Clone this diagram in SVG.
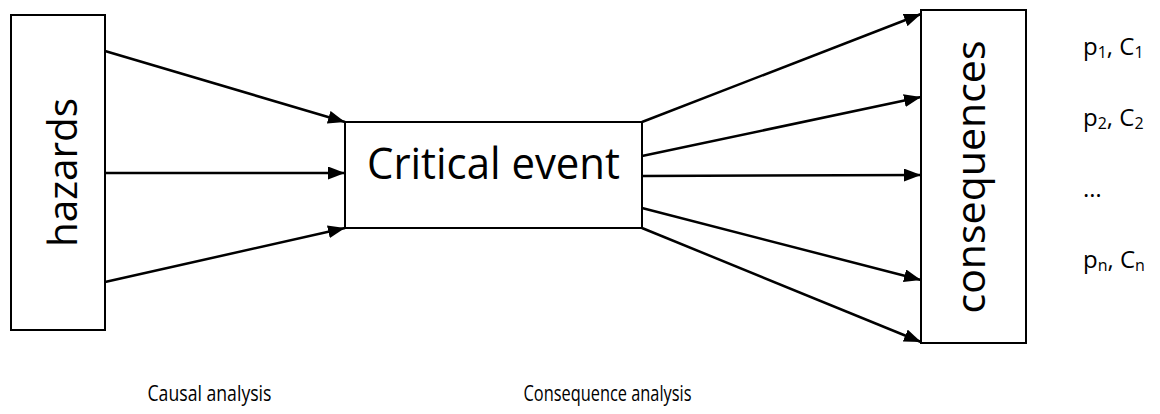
<svg xmlns="http://www.w3.org/2000/svg" width="1160" height="414" viewBox="0 0 1160 414">
  <defs>
    <marker id="arrow" markerUnits="userSpaceOnUse" markerWidth="17" markerHeight="13" refX="17" refY="6.5" orient="auto">
      <path d="M0,0 L17,6.5 L0,13 z" fill="#000"/>
    </marker>
    <style>
      .box { fill: #fff; stroke: #000; stroke-width: 2; }
      .link { stroke: #000; stroke-width: 2.5; fill: none; marker-end: url(#arrow); }
      .lbl { font-family: "Open Sans", "Liberation Sans", sans-serif; fill: #000; }
    </style>
  </defs>
  <rect width="1160" height="414" fill="#fff"/>

  <g id="connectors">
    <!-- hazards to critical event -->
    <line class="link" x1="105" y1="51" x2="345" y2="122"/>
    <line class="link" x1="105" y1="173" x2="345" y2="173"/>
    <line class="link" x1="105" y1="282" x2="345" y2="228"/>
    <!-- critical event to consequences -->
    <line class="link" x1="642" y1="122" x2="921" y2="14"/>
    <line class="link" x1="642" y1="156" x2="921" y2="97"/>
    <line class="link" x1="642" y1="176" x2="921" y2="175"/>
    <line class="link" x1="642" y1="208" x2="921" y2="280"/>
    <line class="link" x1="642" y1="228" x2="921" y2="342"/>
  </g>

  <g id="hazards">
    <rect class="box" x="11" y="15" width="94" height="315"/>
    <text class="lbl" font-size="41" text-anchor="middle" transform="translate(77,172.5) rotate(-90)" textLength="149" lengthAdjust="spacingAndGlyphs">hazards</text>
  </g>

  <g id="critical-event">
    <rect class="box" x="345" y="122" width="297" height="106"/>
    <text class="lbl" x="493.5" y="179" font-size="43" text-anchor="middle" textLength="253" lengthAdjust="spacingAndGlyphs">Critical event</text>
  </g>

  <g id="consequences">
    <rect class="box" x="921" y="10" width="105" height="333"/>
    <text class="lbl" font-size="41" text-anchor="middle" transform="translate(985,177) rotate(-90)" textLength="273" lengthAdjust="spacingAndGlyphs">consequences</text>
  </g>

  <g id="outcomes" class="lbl" font-size="24">
    <text x="1083" y="55">p<tspan font-size="16" dy="3">1</tspan><tspan dy="-3">, C</tspan><tspan font-size="16" dy="3">1</tspan></text>
    <text x="1083" y="126">p<tspan font-size="16" dy="3">2</tspan><tspan dy="-3">, C</tspan><tspan font-size="16" dy="3">2</tspan></text>
    <text x="1083" y="197">…</text>
    <text x="1083" y="268">p<tspan font-size="16" dy="3">n</tspan><tspan dy="-3">, C</tspan><tspan font-size="16" dy="3">n</tspan></text>
  </g>

  <g id="phases" class="lbl" font-size="21" text-anchor="middle">
    <text x="209.5" y="401" textLength="124" lengthAdjust="spacingAndGlyphs">Causal analysis</text>
    <text x="607.5" y="401" textLength="168" lengthAdjust="spacingAndGlyphs">Consequence analysis</text>
  </g>
</svg>
